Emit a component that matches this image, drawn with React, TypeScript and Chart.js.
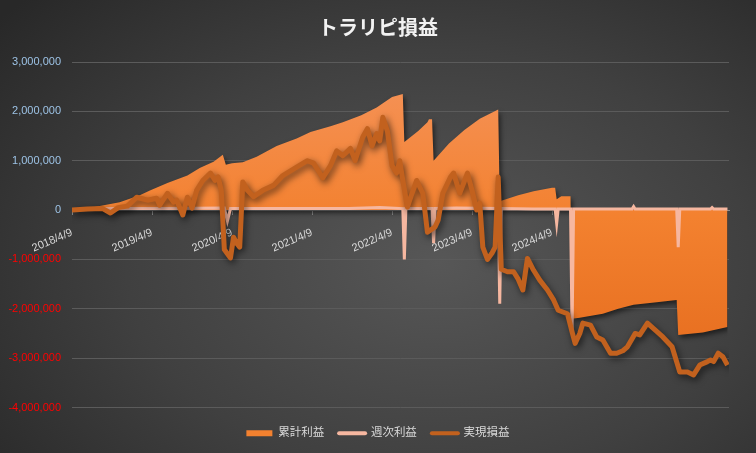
import React, { useEffect, useRef } from "react";
import { Chart, registerables } from "chart.js";

// ---- data (x = week index since 2018/4/9, values in yen) ----
const tickLabels = [
  "2018/4/9", "2019/4/9", "2020/4/9", "2021/4/9", "2022/4/9",
  "2023/4/9", "2024/4/9", "2025/4/9", "2026/4/9",
];
const weeksPerTick = 52;
const lastWeek = 427;

const cumulativeWeeks = [0, 10, 18, 31, 44, 51, 62, 75, 83, 92, 98, 100, 104, 111, 120, 133, 146, 155, 168, 176, 188, 198, 208, 215, 216, 225, 231, 232, 234, 235, 245, 255, 265, 277, 278, 290, 300, 312, 314, 315, 318, 324, 325, 330, 345, 355, 365, 380, 393, 394, 410, 426];
const cumulativeValues = [0, 30000, 80000, 160000, 300000, 400000, 550000, 700000, 850000, 980000, 1120000, 920000, 950000, 970000, 1080000, 1300000, 1450000, 1580000, 1700000, 1780000, 1920000, 2080000, 2290000, 2350000, 1380000, 1600000, 1780000, 1840000, 1840000, 1000000, 1350000, 1620000, 1850000, 2040000, 180000, 300000, 380000, 450000, 450000, 220000, 280000, 280000, -2200000, -2180000, -2100000, -2000000, -1920000, -1870000, -1820000, -2530000, -2480000, -2370000];

const weeklyWeeks = [0, 12, 30, 60, 99, 101, 103, 140, 180, 200, 215, 216, 217, 234, 235, 236, 250, 277, 278, 279, 300, 314, 315, 316, 324, 325, 326, 364, 365, 366, 393, 394, 395, 415, 416, 417, 426];
const weeklyValues = [0, 20000, 30000, 30000, 40000, -220000, 30000, 30000, 30000, 50000, 30000, -1000000, 30000, 30000, -670000, 30000, 40000, 30000, -1900000, 30000, 20000, 20000, -270000, 20000, 20000, -2450000, 20000, 20000, 70000, 20000, 20000, -750000, 20000, 20000, 50000, 20000, 20000];

const realizedWeeks = [0, 10, 20, 25, 30, 36, 42, 49, 55, 57, 62, 66, 68, 72, 75, 78, 81, 85, 90, 93, 95, 97, 99, 103, 105, 107, 109, 111, 114, 118, 124, 131, 137, 146, 153, 157, 163, 168, 172, 176, 181, 184, 189, 192, 195, 198, 200, 202, 205, 208, 211, 213, 215, 218, 221, 224, 228, 231, 236, 238, 241, 246, 248, 252, 257, 260, 263, 265, 267, 270, 273, 275, 277, 279, 283, 287, 290, 293, 296, 300, 304, 309, 313, 316, 322, 325, 327, 330, 332, 337, 341, 345, 350, 354, 358, 361, 366, 369, 374, 378, 384, 390, 395, 400, 404, 408, 413, 415, 417, 420, 423, 426];
const realizedValues = [0, 20000, 30000, -60000, 50000, 80000, 260000, 200000, 240000, 100000, 340000, 160000, 200000, -100000, 260000, 40000, 400000, 600000, 750000, 600000, 670000, 400000, -800000, -970000, -550000, -670000, -750000, 570000, 400000, 270000, 400000, 500000, 700000, 870000, 1000000, 950000, 650000, 900000, 1200000, 1100000, 1250000, 1000000, 1480000, 1650000, 1300000, 1550000, 1400000, 1880000, 1600000, 900000, 750000, 1000000, 600000, 60000, 340000, 600000, 340000, -450000, -340000, -200000, 340000, 670000, 750000, 340000, 750000, 400000, 0, 140000, -750000, -1000000, -870000, -750000, 670000, -1200000, -1250000, -1250000, -1400000, -1620000, -980000, -1220000, -1420000, -1620000, -1820000, -2030000, -2100000, -2470000, -2700000, -2500000, -2290000, -2330000, -2570000, -2630000, -2900000, -2900000, -2850000, -2770000, -2500000, -2530000, -2290000, -2400000, -2570000, -2770000, -3280000, -3280000, -3340000, -3140000, -3070000, -3040000, -3070000, -2900000, -2970000, -3140000];

const seriesNames = ["累計利益", "週次利益", "実現損益"];
const yMin = -4000000;
const yMax = 3000000;
const yStep = 1000000;

const pts = (xs: number[], ys: number[]) => xs.map((x, i) => ({ x, y: ys[i] }));

const shadowPlugin = {
  id: "dsShadow",
  afterLayout(chart: any) {
    // centre title and legend on the full canvas width
    if (chart.legend) chart.legend.left += 27;
    if (chart.titleBlock) chart.titleBlock.left += 27;
  },
  beforeDatasetDraw(chart: any, args: any) {
    const ds = chart.data.datasets[args.index];
    const s = ds && ds.shadow;
    if (!s) return;
    const ctx = chart.ctx;
    ctx.save();
    ctx.shadowColor = s.color;
    ctx.shadowBlur = s.blur;
    ctx.shadowOffsetX = s.x;
    ctx.shadowOffsetY = s.y;
  },
  afterDatasetDraw(chart: any, args: any) {
    const ds = chart.data.datasets[args.index];
    if (ds && ds.shadow) chart.ctx.restore();
  },
};

Chart.register(shadowPlugin as any);
Chart.register(...registerables);

const CJK = "'Liberation Sans', 'Noto Sans CJK JP', sans-serif";

export default function App() {
  const ref = useRef<HTMLCanvasElement | null>(null);

  useEffect(() => {
    if (!ref.current) return;
    const colors = ["#F3812F", "#F6B7A0", "#C2611E"];
    const chart = new Chart(ref.current, {
      type: "line",
      data: {
        datasets: [
          {
            label: seriesNames[0],
            data: pts(cumulativeWeeks, cumulativeValues),
            fill: "origin",
            borderWidth: 0,
            pointRadius: 0,
            borderColor: "rgba(0,0,0,0)",
            backgroundColor: (c: any) => {
              const { chart } = c;
              const a = chart.chartArea;
              if (!a) return colors[0];
              const g = chart.ctx.createLinearGradient(0, a.top, 0, a.bottom);
              g.addColorStop(0, "#F5945C");
              g.addColorStop(0.45, "#F3812F");
              g.addColorStop(1, "#E2671A");
              return g;
            },
            order: 3,
            shadow: { color: "rgba(0,0,0,0.55)", blur: 5, x: 2, y: 3 },
          } as any,
          {
            label: seriesNames[1],
            data: pts(weeklyWeeks, weeklyValues),
            fill: false,
            borderColor: colors[1],
            borderWidth: 3,
            pointRadius: 0,
            order: 2,
          },
          {
            label: seriesNames[2],
            data: pts(realizedWeeks, realizedValues),
            fill: false,
            borderColor: colors[2],
            borderWidth: 5,
            pointRadius: 0,
            borderJoinStyle: "round",
            order: 1,
            shadow: { color: "rgba(0,0,0,0.6)", blur: 7, x: 2, y: 3 },
          } as any,
        ],
      },
      options: {
        responsive: false,
        animation: false,
        layout: { padding: { left: 0, right: 27, top: 0, bottom: 4 } },
        elements: { line: { tension: 0 } },
        scales: {
          x: {
            type: "linear",
            position: { y: 0 } as any,
            min: 0,
            max: lastWeek,
            afterBuildTicks: (scale: any) => {
              scale.ticks = tickLabels.map((_, i) => ({ value: i * weeksPerTick }));
            },
            grid: {
              drawOnChartArea: false,
              drawTicks: true,
              tickLength: 4,
              color: "#8C8C8C",
            },
            border: { display: true, color: "#8C8C8C" },
            ticks: {
              autoSkip: false,
              minRotation: 23,
              maxRotation: 23,
              padding: 12,
              color: "#D9D9D9",
              font: { family: CJK, size: 11 },
              callback: (v: any) => {
                const i = Math.round(Number(v) / weeksPerTick);
                return tickLabels[i] ?? "";
              },
            },
          },
          y: {
            min: yMin,
            max: yMax,
            afterFit: (scale: any) => {
              scale.width = 72;
            },
            grid: { color: "#5B5B5B", drawTicks: false, lineWidth: 1 },
            border: { display: false },
            ticks: {
              stepSize: yStep,
              padding: 11,
              font: { family: CJK, size: 11 },
              color: (c: any) => (c.tick && c.tick.value < 0 ? "#FF0000" : "#9DC3E6"),
              callback: (v: any) => Number(v).toLocaleString("en-US"),
            },
          },
        },
        plugins: {
          title: {
            display: true,
            text: "トラリピ損益",
            color: "#F2F2F2",
            font: { family: "'Noto Sans CJK JP', sans-serif", size: 20, weight: "bold" },
            padding: { top: 15, bottom: 23 },
          },
          legend: {
            position: "bottom",
            title: { display: true, text: "", font: { size: 5, lineHeight: 1 }, padding: 0 },
            labels: {
              color: "#D9D9D9",
              font: { family: CJK, size: 11.5 },
              usePointStyle: true,
              pointStyleWidth: 26,
              boxHeight: 6,
              padding: 15,
              generateLabels: () => [
                { text: seriesNames[0], fillStyle: colors[0], strokeStyle: colors[0], lineWidth: 0, pointStyle: "rect", datasetIndex: 0, fontColor: "#D9D9D9" },
                { text: seriesNames[1], fillStyle: colors[1], strokeStyle: colors[1], lineWidth: 4, lineCap: "round", pointStyle: "line", datasetIndex: 1, fontColor: "#D9D9D9" },
                { text: seriesNames[2], fillStyle: colors[2], strokeStyle: colors[2], lineWidth: 4, lineCap: "round", pointStyle: "line", datasetIndex: 2, fontColor: "#D9D9D9" },
              ] as any,
            },
          },
          tooltip: { enabled: false },
        },
      } as any,
    });
    return () => chart.destroy();
  }, []);

  return (
    <div
      style={{
        position: "fixed",
        left: 0,
        top: 0,
        width: 756,
        height: 453,
        background: "radial-gradient(ellipse 75% 85% at 58% 58%, #575757 0%, #404040 55%, #282828 100%)",
      }}
    >
      <canvas ref={ref} width={756} height={453} style={{ display: "block" }} />
    </div>
  );
}
